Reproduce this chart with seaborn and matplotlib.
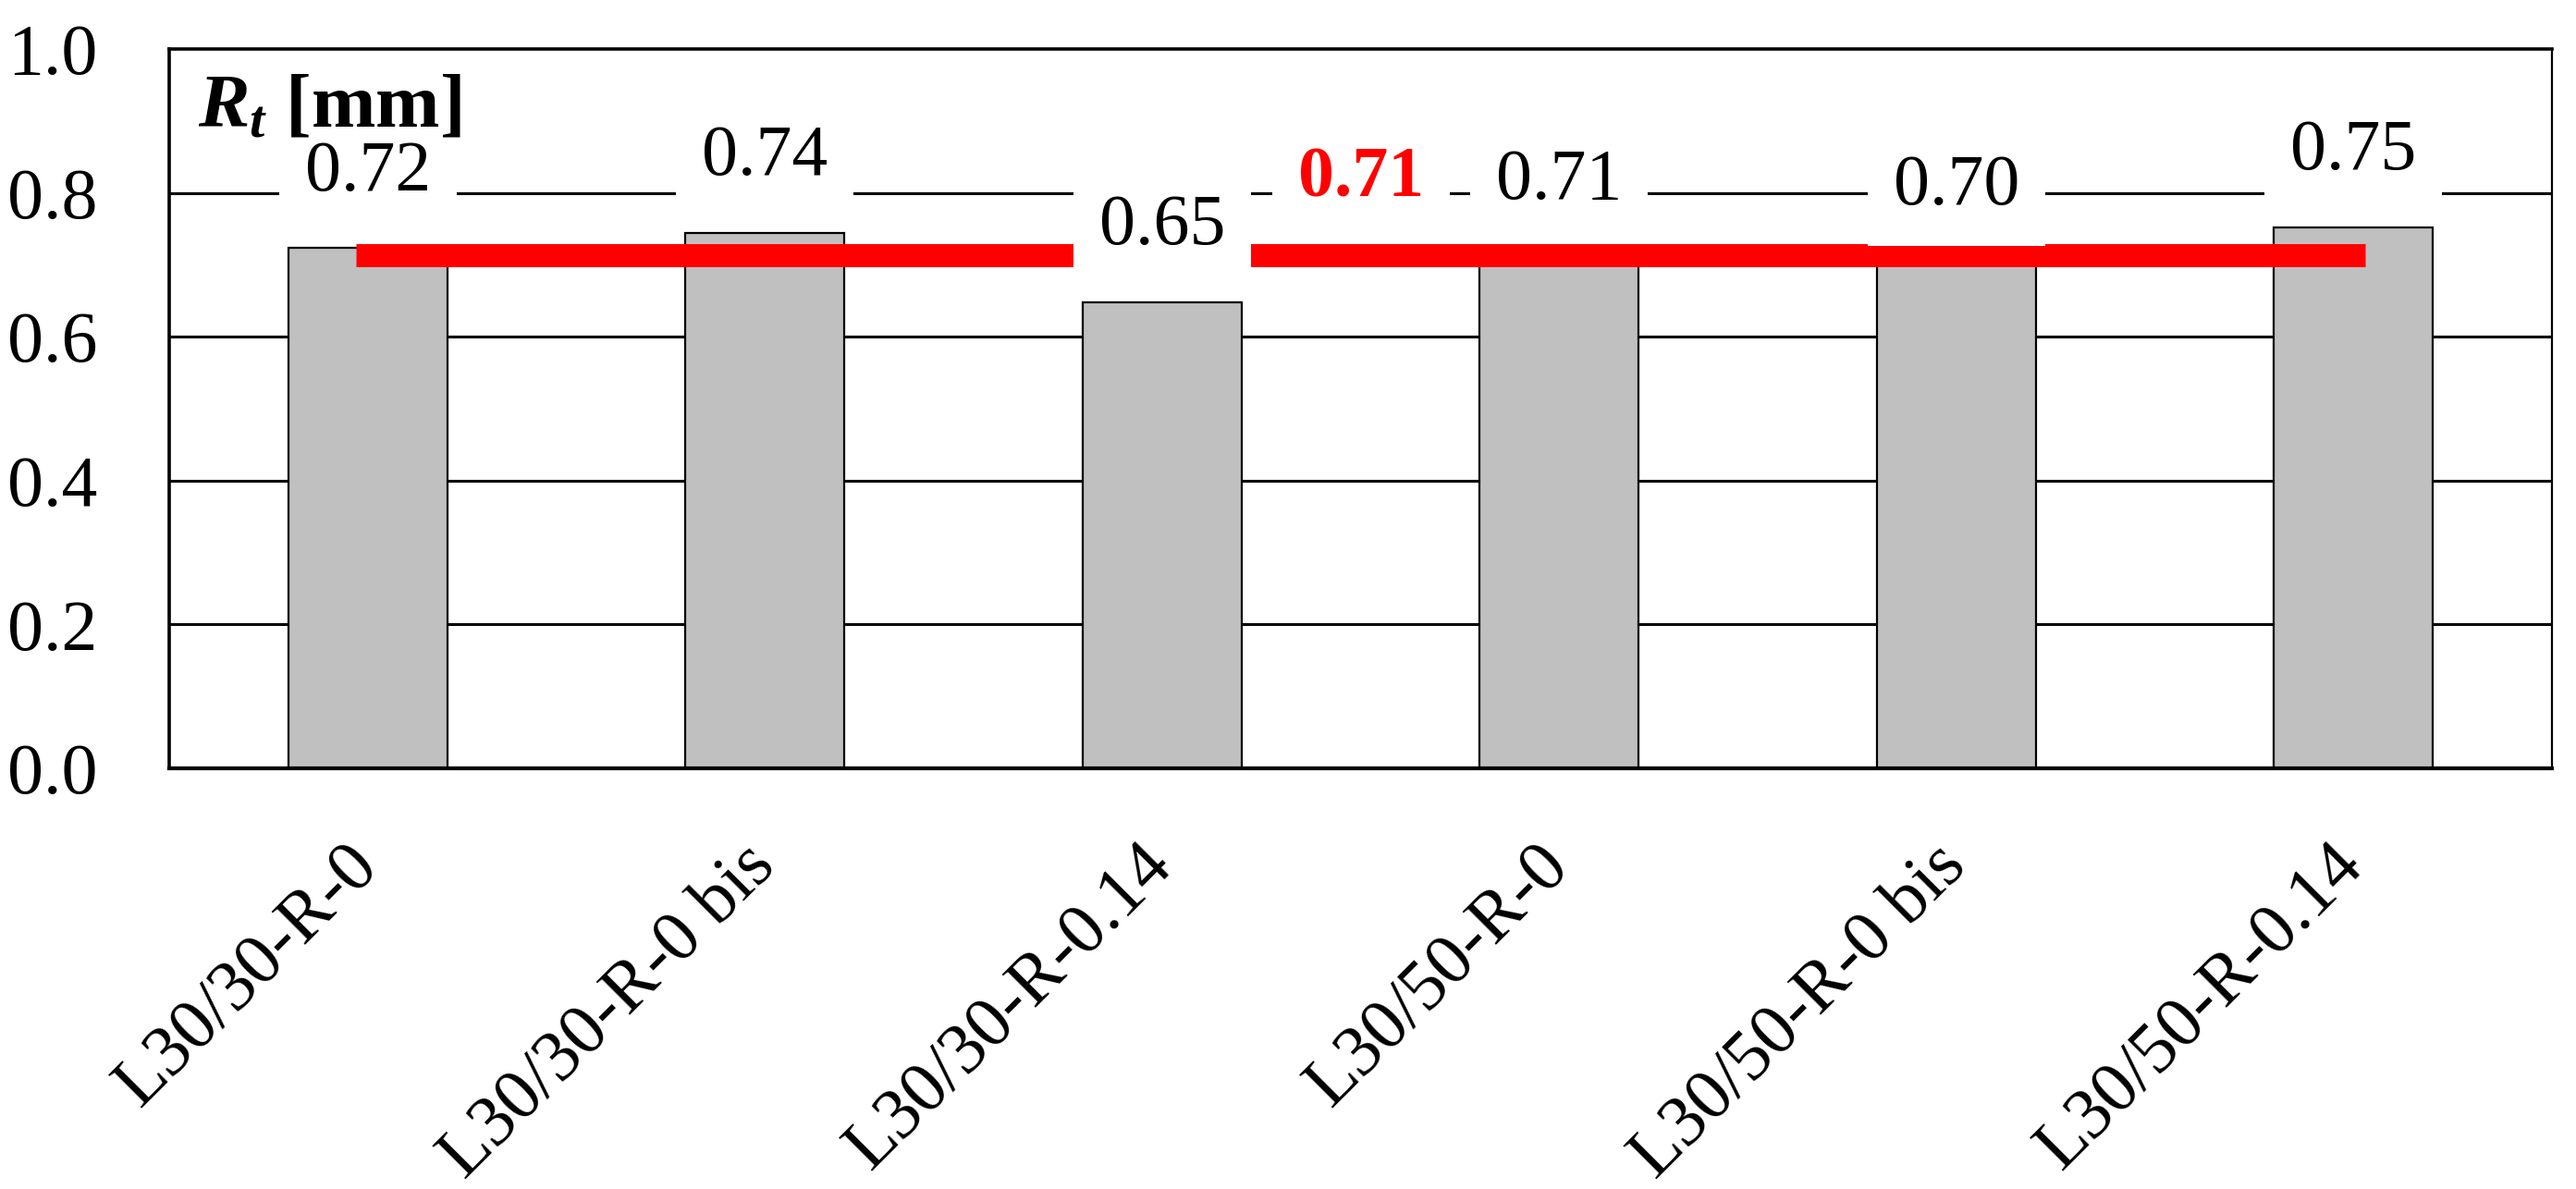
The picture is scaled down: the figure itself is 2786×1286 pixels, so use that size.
import matplotlib
matplotlib.use("Agg")
import matplotlib.pyplot as plt
import matplotlib.transforms as mtransforms
import numpy as np
import pandas as pd
import seaborn as sns

samples = ["L30/30-R-0", "L30/30-R-0 bis", "L30/30-R-0.14",
           "L30/50-R-0", "L30/50-R-0 bis", "L30/50-R-0.14"]
rt_values = [0.723, 0.744, 0.648, 0.711, 0.703, 0.752]
y_ticks = [0.0, 0.2, 0.4, 0.6, 0.8, 1.0]

sns.set_style("white")
plt.rcParams["font.family"] = ["Liberation Serif", "DejaVu Serif"]
plt.rcParams["mathtext.fontset"] = "custom"
plt.rcParams["mathtext.it"] = "Liberation Serif:italic:bold"
plt.rcParams["mathtext.rm"] = "Liberation Serif:bold"
plt.rcParams["text.color"] = "black"
plt.rcParams["xtick.color"] = "black"
plt.rcParams["ytick.color"] = "black"

fs = 28
df = pd.DataFrame({"Sample": samples, "Rt": rt_values})
mean_rt = np.mean(rt_values)

fig = plt.figure(figsize=(13.93, 6.43), dpi=200)
ax = fig.add_axes([0.0657, 0.3538, 0.925, 0.605])

sns.barplot(data=df, x="Sample", y="Rt", color="#c0c0c0", edgecolor="black",
            linewidth=0.8, width=0.4, saturation=1, ax=ax, zorder=2)

ax.set_xlim(-0.5, 5.5)
ax.set_ylim(0, 1.0)
ax.set_yticks(y_ticks)
ax.set_yticklabels([f"{t:.1f}" for t in y_ticks], fontsize=fs)
for t in y_ticks[1:-1]:
    ax.axhline(t, color="black", lw=1.1, zorder=1)

# mean line
ax.plot([-0.03, 5.03], [mean_rt, mean_rt], color="#ff0000", lw=9,
        solid_capstyle="butt", zorder=3)

# value labels
for i, v in enumerate(rt_values):
    ax.text(i, v + 0.105, f"{v:.2f}", ha="center", va="center", fontsize=fs,
            zorder=4, bbox=dict(facecolor="white", edgecolor="none", pad=10))
ax.text(2.5, mean_rt + 0.105, f"{mean_rt:.2f}", ha="center", va="center",
        fontsize=fs, color="#ff0000", fontweight="bold", zorder=4,
        bbox=dict(facecolor="white", edgecolor="none", pad=10))

ax.text(0.012, 0.892, r"$R_t$ [mm]", transform=ax.transAxes, fontsize=30,
        fontweight="bold", ha="left", va="baseline", zorder=5)

ax.set_xlabel("")
ax.set_ylabel("")
ax.set_xticks(range(len(samples)))
ax.set_xticklabels(samples, rotation=45, ha="right", va="center",
                   rotation_mode="anchor", fontsize=fs)
offset = mtransforms.ScaledTranslation(0.17, 0, fig.dpi_scale_trans)
for lbl in ax.get_xticklabels():
    lbl.set_transform(lbl.get_transform() + offset)
ax.tick_params(axis="x", length=0, pad=34)
ax.tick_params(axis="y", length=0, pad=28)

for side, w in {"top": 1.3, "bottom": 1.5, "left": 1.3, "right": 0.8}.items():
    ax.spines[side].set_visible(True)
    ax.spines[side].set_color("black")
    ax.spines[side].set_linewidth(w)

fig.savefig("out.png", dpi=200, facecolor="white")
